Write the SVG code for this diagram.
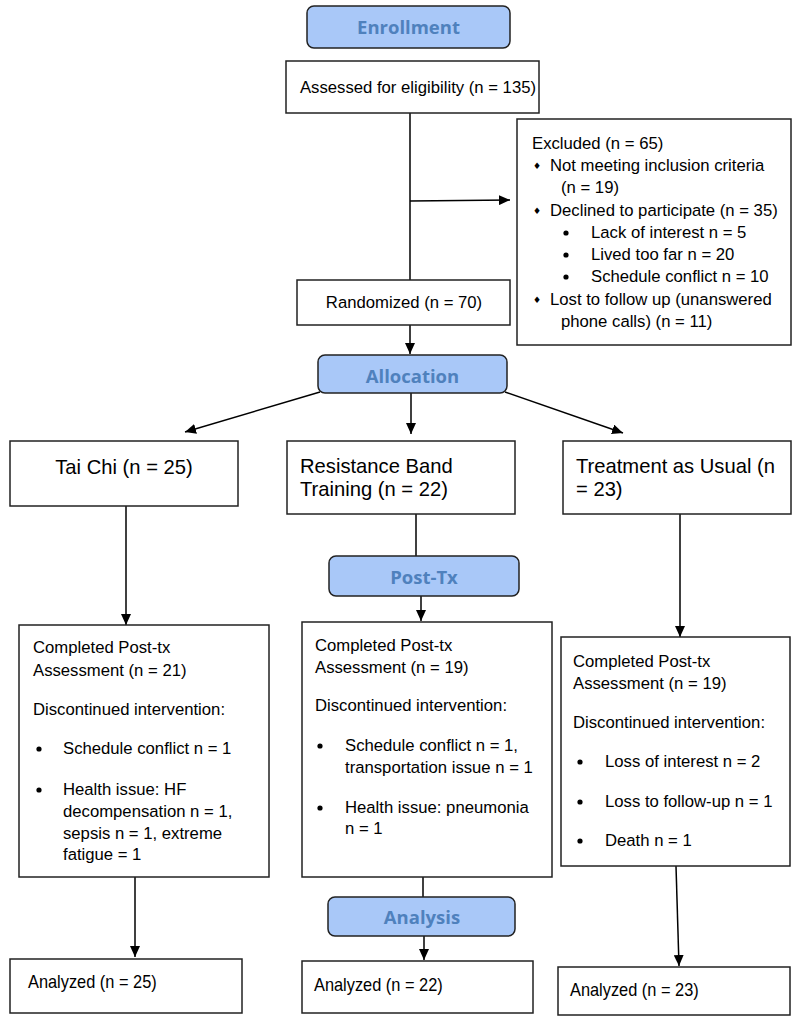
<svg xmlns="http://www.w3.org/2000/svg" width="800" height="1021" viewBox="0 0 800 1021">
<defs>
<marker id="ah" markerUnits="userSpaceOnUse" markerWidth="12" markerHeight="10" refX="11" refY="5" orient="auto">
<path d="M0,0 L11,5 L0,10 z" fill="#000"/>
</marker>
<style>
.box{fill:#fff;stroke:#222;stroke-width:1.5}
.lbl{fill:#a9c8f8;stroke:#222;stroke-width:1.5}
.lt{font-family:"Open Sans","Noto Sans",sans-serif;font-weight:700;font-size:18.5px;fill:#4f81bd;text-anchor:middle}
.t{font-family:"Liberation Sans",Arial,sans-serif;font-size:16.7px;fill:#000}
.tc{font-family:"Liberation Sans",Arial,sans-serif;font-size:16.7px;fill:#000;text-anchor:middle}
.tb{font-family:"Liberation Sans",Arial,sans-serif;font-size:20.2px;fill:#000}
.ta{font-family:"Liberation Sans",Arial,sans-serif;font-size:18px;fill:#000}
.dm{font-family:"DejaVu Sans",sans-serif;font-size:9px;fill:#000}
.ln{stroke:#000;stroke-width:1.5;fill:none}
.ar{stroke:#000;stroke-width:1.5;fill:none;marker-end:url(#ah)}
</style>
</defs>
<rect width="800" height="1021" fill="#fff"/>

<g id="connectors">
<line class="ln" x1="410" y1="113" x2="410" y2="280"/>
<line class="ar" x1="410" y1="201" x2="510" y2="200"/>
<line class="ar" x1="410" y1="325" x2="410" y2="354"/>
<line class="ar" x1="320" y1="392" x2="185" y2="432"/>
<line class="ar" x1="411" y1="393" x2="411" y2="434"/>
<line class="ar" x1="505" y1="392" x2="623" y2="433"/>
<line class="ar" x1="126" y1="506" x2="126" y2="625"/>
<line class="ln" x1="416" y1="514" x2="416" y2="556"/>
<line class="ar" x1="421" y1="596" x2="421" y2="621"/>
<line class="ar" x1="680" y1="514" x2="680" y2="637"/>
<line class="ar" x1="135" y1="877" x2="135" y2="957"/>
<line class="ln" x1="423" y1="877" x2="423" y2="897"/>
<line class="ar" x1="424" y1="936" x2="424" y2="960"/>
<line class="ar" x1="676" y1="866" x2="679" y2="966"/>
</g>

<g id="enrollment">
<rect class="lbl" x="307" y="6" width="203" height="42" rx="7"/>
<text class="lt" x="408.5" y="34">Enrollment</text>
</g>

<g id="assessed">
<rect class="box" x="286" y="61" width="253" height="52"/>
<text class="tc" x="418" y="93">Assessed for eligibility (n = 135)</text>
</g>

<g id="excluded">
<rect class="box" x="517" y="119" width="274" height="226"/>
<text class="t" x="532" y="149">Excluded (n = 65)</text>
<text class="dm" x="533" y="169">♦</text>
<text class="t" x="550" y="171">Not meeting inclusion criteria</text>
<text class="t" x="561" y="193">(n = 19)</text>
<text class="dm" x="533" y="214">♦</text>
<text class="t" x="550" y="216">Declined to participate (n = 35)</text>
<circle cx="566" cy="233" r="2.6"/>
<text class="t" x="591" y="238">Lack of interest n = 5</text>
<circle cx="566" cy="255" r="2.6"/>
<text class="t" x="591" y="260">Lived too far n = 20</text>
<circle cx="566" cy="277" r="2.6"/>
<text class="t" x="591" y="282">Schedule conflict n = 10</text>
<text class="dm" x="533" y="303">♦</text>
<text class="t" x="550" y="305">Lost to follow up (unanswered</text>
<text class="t" x="561" y="327">phone calls) (n = 11)</text>
</g>

<g id="randomized">
<rect class="box" x="297" y="280" width="213" height="45"/>
<text class="tc" x="404" y="308">Randomized (n = 70)</text>
</g>

<g id="allocation">
<rect class="lbl" x="318" y="355" width="189" height="38" rx="7"/>
<text class="lt" x="412.5" y="383">Allocation</text>
</g>

<g id="taichi">
<rect class="box" x="10" y="441" width="228" height="65"/>
<text class="tb" x="124" y="474" text-anchor="middle">Tai Chi (n = 25)</text>
</g>

<g id="resistance">
<rect class="box" x="287" y="441" width="228" height="73"/>
<text class="tb" x="300" y="473">Resistance Band</text>
<text class="tb" x="300" y="496">Training (n = 22)</text>
</g>

<g id="tau">
<rect class="box" x="563" y="441" width="228" height="73"/>
<text class="tb" x="576" y="473">Treatment as Usual (n</text>
<text class="tb" x="576" y="496">= 23)</text>
</g>

<g id="posttx">
<rect class="lbl" x="329" y="556" width="190" height="40" rx="7"/>
<text class="lt" x="424" y="584">Post-Tx</text>
</g>

<g id="taichi-post">
<rect class="box" x="19" y="625" width="250" height="252"/>
<text class="t" x="33" y="653">Completed Post-tx</text>
<text class="t" x="33" y="676">Assessment (n = 21)</text>
<text class="t" x="33" y="715">Discontinued intervention:</text>
<circle cx="39" cy="749" r="2.6"/>
<text class="t" x="63" y="754">Schedule conflict n = 1</text>
<circle cx="39" cy="790" r="2.6"/>
<text class="t" x="63" y="795">Health issue: HF</text>
<text class="t" x="63" y="817">decompensation n = 1,</text>
<text class="t" x="63" y="839">sepsis n = 1, extreme</text>
<text class="t" x="63" y="860">fatigue = 1</text>
</g>

<g id="resistance-post">
<rect class="box" x="302" y="622" width="250" height="255"/>
<text class="t" x="315" y="651">Completed Post-tx</text>
<text class="t" x="315" y="673">Assessment (n = 19)</text>
<text class="t" x="315" y="711">Discontinued intervention:</text>
<circle cx="320" cy="746" r="2.6"/>
<text class="t" x="345" y="751">Schedule conflict n = 1,</text>
<text class="t" x="345" y="773">transportation issue n = 1</text>
<circle cx="320" cy="808" r="2.6"/>
<text class="t" x="345" y="813">Health issue: pneumonia</text>
<text class="t" x="345" y="834">n = 1</text>
</g>

<g id="tau-post">
<rect class="box" x="561" y="637" width="229" height="229"/>
<text class="t" x="573" y="667">Completed Post-tx</text>
<text class="t" x="573" y="689">Assessment (n = 19)</text>
<text class="t" x="573" y="728">Discontinued intervention:</text>
<circle cx="580" cy="762" r="2.6"/>
<text class="t" x="605" y="767">Loss of interest n = 2</text>
<circle cx="580" cy="802" r="2.6"/>
<text class="t" x="605" y="807">Loss to follow-up n = 1</text>
<circle cx="580" cy="841" r="2.6"/>
<text class="t" x="605" y="846">Death n = 1</text>
</g>

<g id="analysis">
<rect class="lbl" x="328" y="897" width="187" height="39" rx="7"/>
<text class="lt" x="422" y="924">Analysis</text>
</g>

<g id="analyzed-taichi">
<rect class="box" x="10" y="959" width="232" height="54"/>
<text class="ta" transform="translate(28,988) scale(0.91,1)">Analyzed (n = 25)</text>
</g>

<g id="analyzed-resistance">
<rect class="box" x="302" y="961" width="231" height="52"/>
<text class="ta" transform="translate(314,991) scale(0.91,1)">Analyzed (n = 22)</text>
</g>

<g id="analyzed-tau">
<rect class="box" x="558" y="967" width="232" height="48"/>
<text class="ta" transform="translate(570,996) scale(0.91,1)">Analyzed (n = 23)</text>
</g>
</svg>
